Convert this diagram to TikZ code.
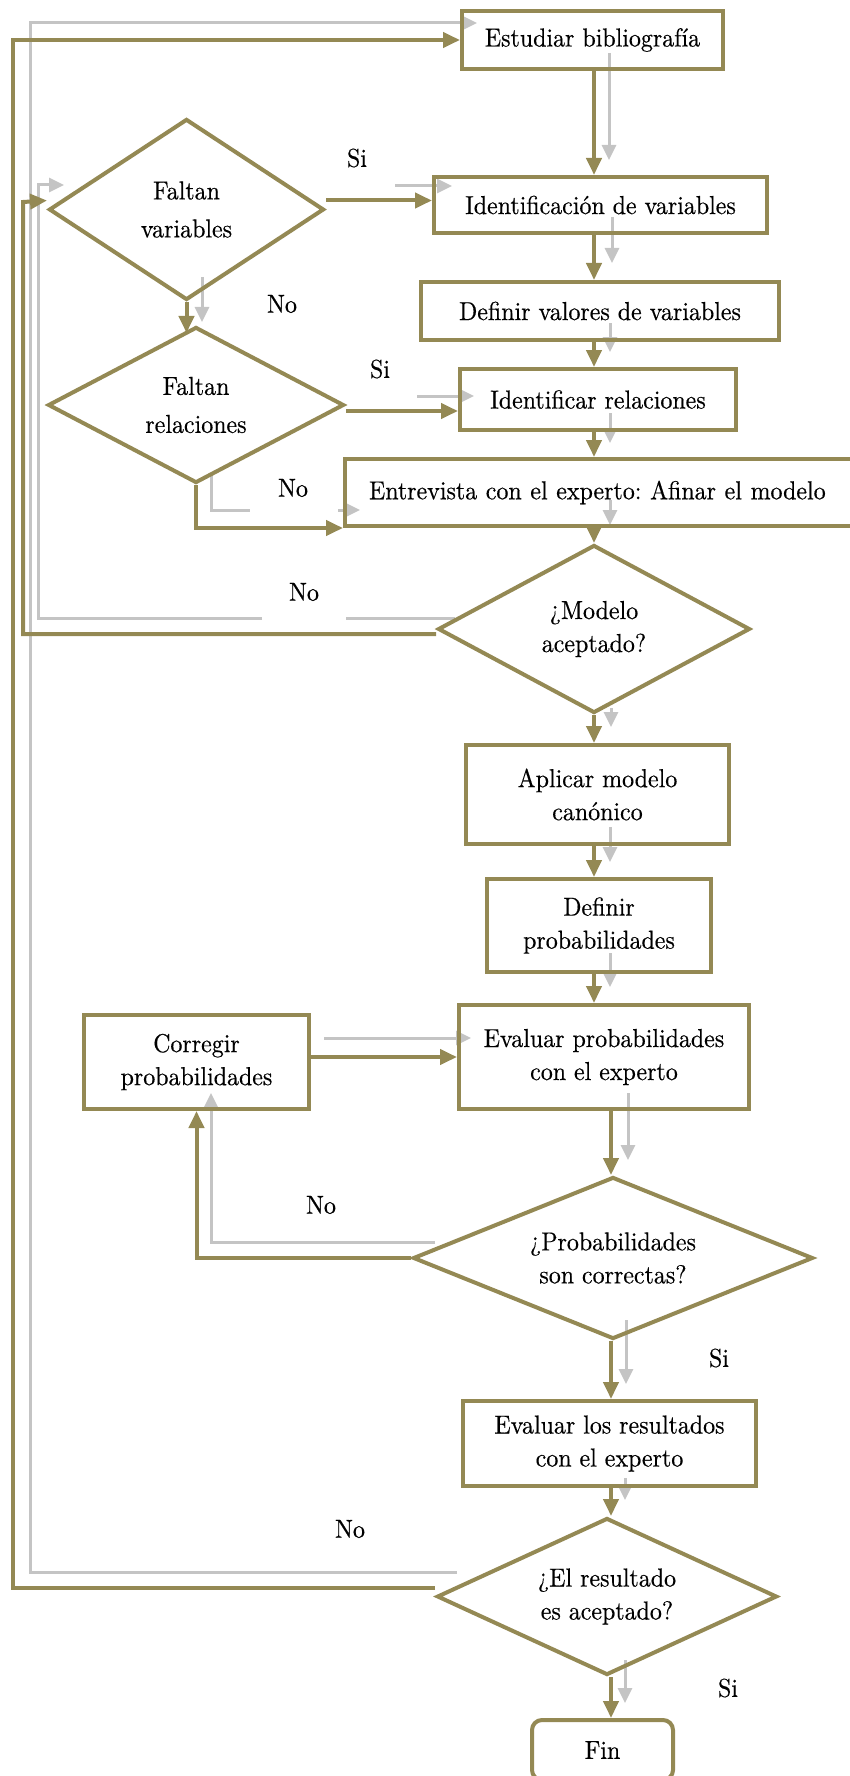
\documentclass[tikz,border=0pt]{standalone}
\usepackage{fontspec}
\setmainfont{lmroman10-regular.otf}[FakeStretch=0.92,FakeBold=0.4]
\usetikzlibrary{arrows.meta,shapes.geometric}
\definecolor{flowline}{RGB}{148,137,84}
\definecolor{ghostgrey}{RGB}{196,196,196}
\frenchspacing
\tikzset{
  every node/.style={font=\fontsize{26}{33}\selectfont},
  box/.style={draw=flowline, line width=4pt, rectangle, inner sep=0pt, align=center},
  decision/.style={draw=flowline, line width=4pt, diamond, aspect=2, inner sep=0pt, align=center},
  flow/.style={draw=flowline, line width=4pt, -{Triangle[width=15pt,length=17pt]}},
  ghost/.style={draw=ghostgrey, line width=3pt, -{Triangle[width=14pt,length=15pt]}},
  ghostline/.style={draw=ghostgrey, line width=3pt},
  answer/.style={inner sep=0pt}
}
\begin{document}
\begin{tikzpicture}[x=1pt,y=-1pt]
\useasboundingbox (0,0) rectangle (850,1776);
\clip (0,0) rectangle (850,1776);

% grey shadow strokes behind the flow
\draw[ghost] (457,1572) -- (30,1572) -- (30,23) -- (477,23);
\draw[ghostline] (455,618) -- (346,618);
\draw[ghost] (262,618) -- (38,618) -- (38,185) -- (64,185);
\draw[ghost] (609,53) -- (609,160);
\draw[ghost] (612,217) -- (612,263);
\draw[ghost] (610,323) -- (610,352);
\draw[ghost] (610,413) -- (610,443);
\draw[ghost] (610,500) -- (610,525);
\draw[ghost] (611,708) -- (611,727);
\draw[ghost] (610,827) -- (610,862);
\draw[ghost] (610,953) -- (610,987);
\draw[ghost] (628,1093) -- (628,1160);
\draw[ghost] (626,1320) -- (626,1384);
\draw[ghost] (625,1478) -- (625,1500);
\draw[ghost] (625,1660) -- (625,1703);
\draw[ghost] (395,186) -- (452,186);
\draw[ghost] (202,277) -- (202,322);
\draw[ghost] (417,396) -- (474,396);
\draw[ghostline] (211,473) -- (211,510) -- (250,510);
\draw[ghost] (338,510) -- (360,510);
\draw[ghost] (324,1038) -- (471,1038);
\draw[ghost] (435,1242) -- (211,1242) -- (211,1093);

% process steps and decisions
\node[box, minimum width=261pt, minimum height=58pt] (estudiar) at (592.5,40) {Estudiar bibliografía};
\node[decision, minimum width=275pt, minimum height=181pt] (faltanVar) at (186.5,209.5) {Faltan\\[5pt]variables};
\node[box, minimum width=333pt, minimum height=56pt] (identVar) at (600.5,205) {Identificación de variables};
\node[box, minimum width=358pt, minimum height=58pt] (valores) at (600,311) {Definir valores de variables};
\node[decision, minimum width=296pt, minimum height=156pt] (faltanRel) at (196,405) {Faltan\\[5pt]relaciones};
\node[box, minimum width=276pt, minimum height=61pt] (identRel) at (598,399.5) {Identificar relaciones};
\node[box, anchor=west, minimum height=67pt, text width=492pt, inner xsep=24pt, align=left] (entrevista) at (343,492.5) {Entrevista con el experto: Afinar el modelo};
\node[decision, minimum width=312pt, minimum height=168pt] (modelo) at (594,629) {¿Modelo\\aceptado?};
\node[box, minimum width=263pt, minimum height=99pt] (canonico) at (597.5,794.5) {Aplicar modelo\\canónico};
\node[box, minimum width=224pt, minimum height=93pt] (defProb) at (599,925.5) {Definir\\probabilidades};
\node[box, minimum width=290pt, minimum height=104pt] (evalProb) at (604,1057) {Evaluar probabilidades\\con el experto};
\node[box, minimum width=225pt, minimum height=94pt] (corregir) at (196.5,1062) {Corregir\\probabilidades};
\node[decision, minimum width=400pt, minimum height=162pt] (probOk) at (613,1258) {¿Probabilidades\\son correctas?};
\node[box, minimum width=293pt, minimum height=85pt] (evalRes) at (609.5,1443.5) {Evaluar los resultados\\con el experto};
\node[decision, minimum width=340pt, minimum height=157pt] (resOk) at (607,1596.5) {¿El resultado\\es aceptado?};
\node[box, rounded corners=10pt, minimum width=141pt, minimum height=60pt] (fin) at (602.5,1750) {Fin};

% spines and loop corners
\coordinate (spineU) at (594,0);
\coordinate (spineL) at (611,0);
\coordinate (innerTop) at (23,202);
\coordinate (outerTop) at (13,40);

% main flow
\draw[flow] (spineU |- estudiar.south) -- (spineU |- identVar.north);
\draw[flow] (spineU |- identVar.south) -- (spineU |- valores.north);
\draw[flow] (spineU |- valores.south) -- (spineU |- identRel.north);
\draw[flow] (spineU |- identRel.south) -- (spineU |- entrevista.north);
\draw[flow] (spineU |- entrevista.south) -- (modelo.north);
\draw[flow] (modelo.south) -- (spineU |- canonico.north);
\draw[flow] (spineU |- canonico.south) -- (spineU |- defProb.north);
\draw[flow] (spineU |- defProb.south) -- (spineU |- evalProb.north);
\draw[flow] (spineL |- evalProb.south) -- (spineL |- probOk.north);
\draw[flow] (spineL |- probOk.south) -- (spineL |- evalRes.north);
\draw[flow] (spineL |- evalRes.south) -- (spineL |- resOk.north);
\draw[flow] (spineL |- resOk.south) -- (spineL |- fin.north);

% branches
\draw[flow] ([yshift=9pt]faltanVar.east) -- ([yshift=9pt]faltanVar.east -| identVar.west);
\draw[flow] (faltanVar.south) -- ([yshift=-8pt]faltanVar.south |- faltanRel.north);
\draw[flow] ([yshift=-6pt]faltanRel.east) -- ([yshift=-6pt]faltanRel.east -| identRel.west);
\draw[flow] (faltanRel.south) |- (entrevista.south west);
\draw[flow] ([yshift=-5pt]modelo.west) -| (innerTop) -- ([yshift=9pt]faltanVar.west);
\draw[flow] ([yshift=9pt]resOk.west) -| (outerTop) -- (estudiar.west);
\draw[flow] (probOk.west) -| (corregir.south);
\draw[flow] (corregir.east |- evalProb.west) -- (evalProb.west);

% answers
\node[answer] (siVar) at (357,158) {Si};
\node[answer] (noVar) at (282,304) {No};
\node[answer] (siRel) at (380,369) {Si};
\node[answer] (noRel) at (293,488) {No};
\node[answer] (noModelo) at (304,592) {No};
\node[answer] (noProb) at (321,1205) {No};
\node[answer] (siProb) at (719,1358) {Si};
\node[answer] (noRes) at (350,1529) {No};
\node[answer] (siRes) at (728,1688) {Si};
\end{tikzpicture}
\end{document}
